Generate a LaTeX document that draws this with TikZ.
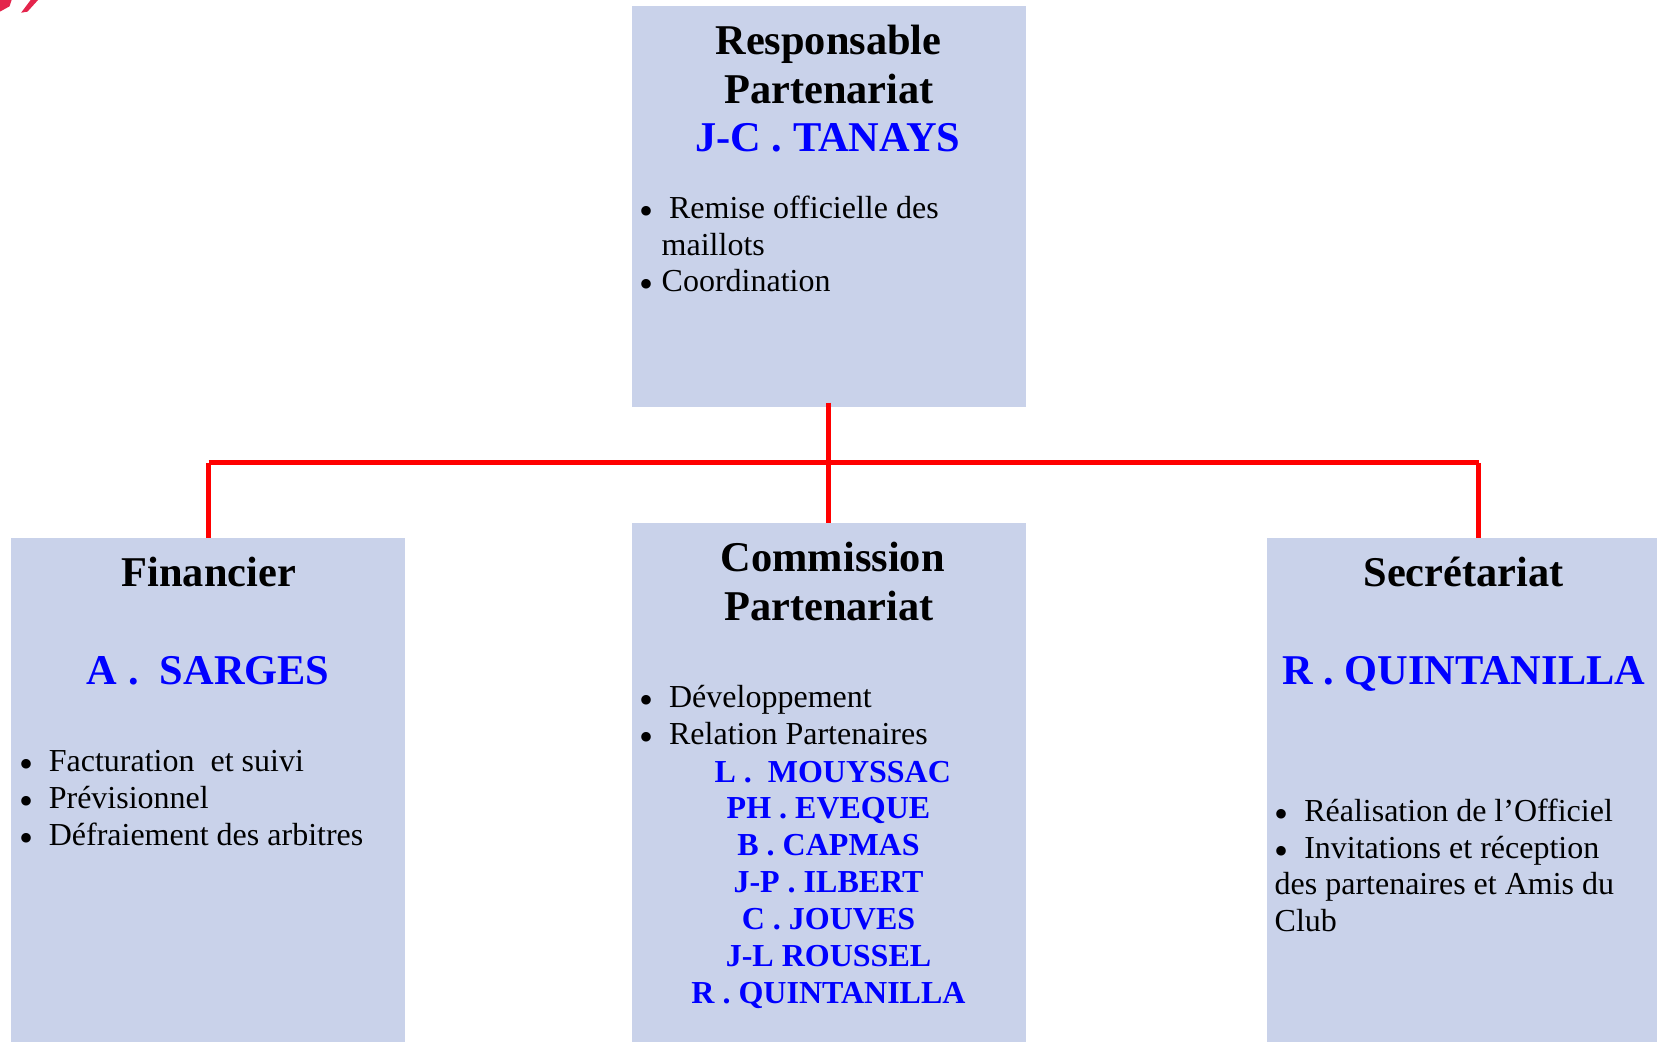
\documentclass[tikz,border=0pt]{standalone}
\usepackage{fontspec}
\setmainfont{Liberation Serif}
\definecolor{boxfill}{HTML}{C9D2EA}
\definecolor{nameblue}{HTML}{0000FF}
\definecolor{linkred}{HTML}{FF0000}
\definecolor{logored}{HTML}{E4244C}
\newcommand{\bigfont}{\fontsize{42.4}{48}\selectfont\bfseries}
\newcommand{\bodyfont}{\fontsize{32}{37}\selectfont}
\newcommand{\namefont}{\fontsize{32}{37}\selectfont\bfseries}
\newcommand{\dotfont}{\fontsize{40}{40}\selectfont}
\tikzset{
  x=1.0568pt,y=-1.0568pt,
  title/.style={anchor=base,inner sep=0pt,text=black,font=\bigfont},
  person/.style={anchor=base,inner sep=0pt,text=nameblue,font=\bigfont},
  subperson/.style={anchor=base,inner sep=0pt,text=nameblue,font=\namefont},
  item/.style={anchor=base west,inner sep=0pt,text=black,font=\bodyfont},
  dotmark/.style={anchor=base west,inner sep=0pt,text=black,font=\dotfont,xshift=0pt,yshift=-6pt},
  link/.style={draw=linkred,line width=5pt},
}
\begin{document}
\begin{tikzpicture}
\useasboundingbox (0,0) rectangle (1568,986);
% clipped logo fragment
\fill[logored] (0,0) -- (11,0) -- (9,6) -- (0,11) -- cycle;
\fill[logored] (29,0) -- (36,0) -- (26,11) -- (20,12) -- cycle;
% panels
\fill[boxfill] (598,6) rectangle (971,385);
\fill[boxfill] (10.5,509) rectangle (383,986);
\fill[boxfill] (598,495) rectangle (971,986);
\fill[boxfill] (1199,509) rectangle (1568,986);
\coordinate (linkstart) at (784,381);
\coordinate (leftend) at (197.5,438);
\coordinate (rightend) at (1399.5,438);
\coordinate (leftbox) at (197.5,509);
\coordinate (midbox) at (784,495);
\coordinate (rightbox) at (1399.5,509);
% connectors
\draw[link] (linkstart) -- (midbox);
\draw[link] (leftend) -- (rightend);
\draw[link] (leftend) -- (leftbox);
\draw[link] (rightend) -- (rightbox);
% top box
\node[title] (t1) at (784,52) {Responsable};
\node[title] (t2) at (784.5,98) {Partenariat};
\node[person] (t3) at (783.5,143.5) {J-C . TANAYS};
\node[dotmark] (b1) at (605,207) {•};
\node[item] (t4) at (633,207) {Remise officielle des};
\node[item] (t5) at (626,242) {maillots};
\node[dotmark] (b2) at (605,276) {•};
\node[item] (t6) at (626,276) {Coordination};
% left box
\node[title] (l1) at (197.5,555) {Financier};
\node[person] (l2) at (197,647.5) {A .\ \ SARGES};
\node[dotmark] (b3) at (18,730) {•};
\node[item] (l3) at (46,730) {Facturation\ \ et suivi};
\node[dotmark] (b4) at (18,765) {•};
\node[item] (l4) at (46,765) {Prévisionnel};
\node[dotmark] (b5) at (18,800) {•};
\node[item] (l5) at (46,800) {Défraiement des arbitres};
% middle box
\node[title] (m1) at (788,541) {Commission};
\node[title] (m2) at (784.5,587) {Partenariat};
\node[dotmark] (b6) at (605,669.5) {•};
\node[item] (m3) at (633,669.5) {Développement};
\node[dotmark] (b7) at (605,704.5) {•};
\node[item] (m4) at (633,704.5) {Relation Partenaires};
\node[subperson] (m5) at (788,740) {L .\ \ MOUYSSAC};
\node[subperson] (m6) at (784,774.5) {PH . EVEQUE};
\node[subperson] (m7) at (784,809.5) {B . CAPMAS};
\node[subperson] (m8) at (784,844.5) {J-P . ILBERT};
\node[subperson] (m9) at (784,879.5) {C . JOUVES};
\node[subperson] (m10) at (784,914.5) {J-L ROUSSEL};
\node[subperson] (m11) at (784,949.5) {R . QUINTANILLA};
% right box
\node[title] (r1) at (1385,555) {Secrétariat};
\node[person] (r2) at (1385,647.5) {R . QUINTANILLA};
\node[dotmark] (b8) at (1206,777) {•};
\node[item] (r3) at (1234,777) {Réalisation de l’Officiel};
\node[dotmark] (b9) at (1206,812) {•};
\node[item] (r4) at (1234,812) {Invitations et réception};
\node[item] (r5) at (1206,846) {des partenaires et Amis du};
\node[item] (r6) at (1206,881) {Club};
\end{tikzpicture}
\end{document}
